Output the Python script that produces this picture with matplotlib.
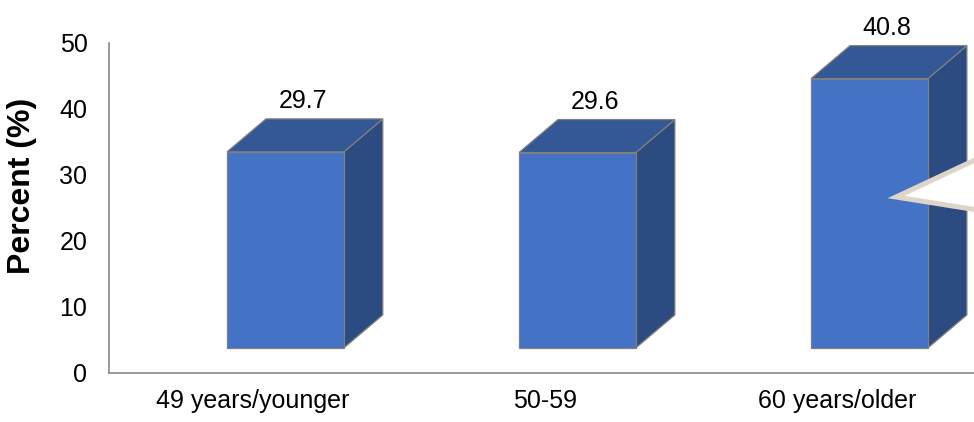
import matplotlib
matplotlib.use('Agg')
import matplotlib.pyplot as plt
from matplotlib.patches import Polygon

# data
categories = ['49 years/younger', '50-59', '60 years/older']
percent = [29.7, 29.6, 40.8]
value_labels = ['29.7', '29.6', '40.8']

plt.rcParams['font.family'] = ['Liberation Sans', 'DejaVu Sans']

fig = plt.figure(figsize=(9.74, 4.22), dpi=100)
ax = fig.add_axes([109/974, 49/422, 865/974, 330/422])

# fake 3d look (excel style box bars)
floor = 3.8     # front face sits a bit above 0
dx, dy = 0.1336, 5.0
off, w = -0.089, 0.4
front_c = '#4472C4'
top_c = '#335895'
side_c = '#2C4B80'
edge_c = '#7F7F7F'

xs = [i + off for i in range(len(percent))]
for x0, v, lab in zip(xs, percent, value_labels):
    x1 = x0 + w
    top = floor + v
    side = Polygon([(x1, floor), (x1 + dx, floor + dy), (x1 + dx, top + dy), (x1, top)],
                   closed=True, facecolor=side_c, edgecolor=edge_c, lw=0.9, zorder=2)
    lid = Polygon([(x0, top), (x0 + dx, top + dy), (x1 + dx, top + dy), (x1, top)],
                  closed=True, facecolor=top_c, edgecolor=edge_c, lw=0.9, zorder=2)
    ax.add_patch(side)
    ax.add_patch(lid)
    ax.text(x0 + w/2 + dx/2 - 0.008, top + dy + 2.7, lab, ha='center', va='center', fontsize=18)

ax.bar(xs, percent, width=w, bottom=floor, align='edge', color=front_c,
       edgecolor=edge_c, linewidth=0.9, zorder=3)

ax.set_xlim(-0.493, 2.469)
ax.set_ylim(0, 50)
ax.set_yticks([0, 10, 20, 30, 40, 50])
ax.set_xticks(range(len(categories)))
ax.set_xticklabels(categories)
ax.tick_params(axis='both', length=0, labelsize=18)
ax.tick_params(axis='y', pad=15.5)
ax.tick_params(axis='x', pad=11.5)

for s in ['top', 'right']:
    ax.spines[s].set_visible(False)
for s in ['left', 'bottom']:
    ax.spines[s].set_color('#898989')
    ax.spines[s].set_linewidth(1.2)

ax.set_ylabel('Percent (%)', fontsize=23, fontweight='bold', va='center')
ax.yaxis.set_label_coords(-0.1006, 0.567)

# piece of a callout shape cut off at the right edge
pts = [(990, 153), (896, 197), (990, 212)]
pts = [(px/974, 1 - py/422) for px, py in pts]
fig.add_artist(Polygon(pts, closed=False, transform=fig.transFigure, facecolor='white',
                       edgecolor='#DED4C9', lw=3.6, joinstyle='miter', zorder=10))

fig.savefig('out.png', dpi=100)
